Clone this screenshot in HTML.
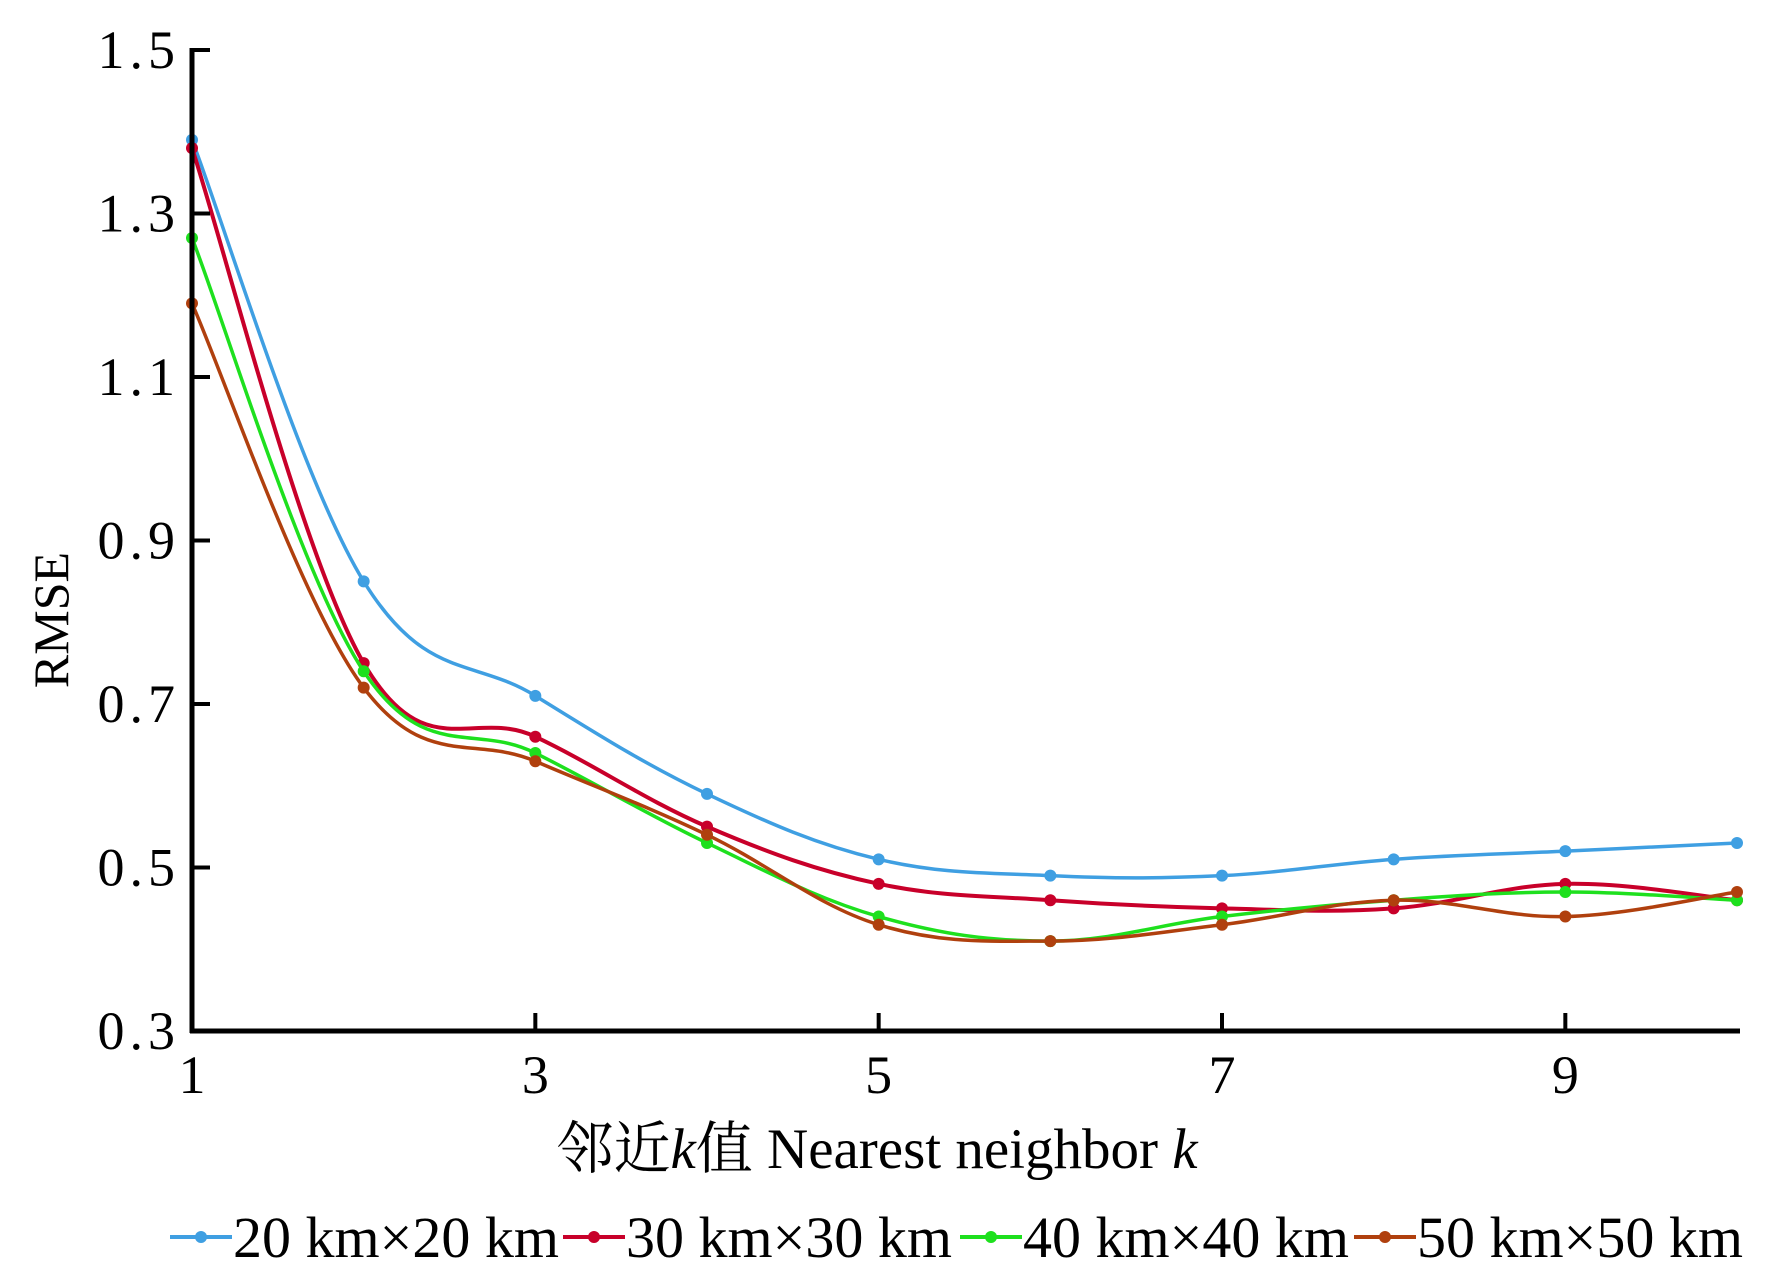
<!DOCTYPE html>
<html><head><meta charset="utf-8"><style>
html,body{margin:0;padding:0;background:#fff;}
svg{display:block;}
text{font-family:"Liberation Serif","Noto Serif CJK SC",serif;fill:#000;}
</style></head><body>
<svg id="chart" width="1772" height="1276" viewBox="0 0 1772 1276" xmlns="http://www.w3.org/2000/svg">
<g id="grid"></g>
<g id="series"></g>
<g id="axes"></g>
<text transform="translate(68,620) rotate(-90)" text-anchor="middle" font-size="50">RMSE</text>
<text x="877" y="1168" text-anchor="middle" font-size="57">邻近<tspan font-style="italic">k</tspan>值 Nearest neighbor <tspan font-style="italic">k</tspan></text>
<g id="legend"></g>
</svg>
<script>
const categories=[1,2,3,4,5,6,7,8,9,10];
const s20=[1.39,0.85,0.71,0.59,0.51,0.49,0.49,0.51,0.52,0.53];
const s30=[1.38,0.75,0.66,0.55,0.48,0.46,0.45,0.45,0.48,0.46];
const s40=[1.27,0.74,0.64,0.53,0.44,0.41,0.44,0.46,0.47,0.46];
const s50=[1.19,0.72,0.63,0.54,0.43,0.41,0.43,0.46,0.44,0.47];
const seriesNames=["20 km×20 km","30 km×30 km","40 km×40 km","50 km×50 km"];
const yTicks=["0.3","0.5","0.7","0.9","1.1","1.3","1.5"];
const xTicks=["1","3","5","7","9"];
const colors=["#3f9fe2","#c8002a","#1ee01e","#b0400e"];
const NS="http://www.w3.org/2000/svg";
function X(k){return 192+(k-1)*(1737-192)/9;}
function Y(v){return 1031-(v-0.3)*(1031-50)/1.2;}
function mk(tag,attrs,parent){const e=document.createElementNS(NS,tag);for(const k in attrs)e.setAttribute(k,attrs[k]);parent.appendChild(e);return e;}
const axes=document.getElementById('axes');
let l=mk('line',{x1:192,y1:48,x2:192,y2:1033,stroke:'#000','stroke-width':5},axes);


l=mk('line',{x1:190,y1:1031,x2:1740,y2:1031,stroke:'#000','stroke-width':5},axes);


yTicks.forEach(t=>{const v=parseFloat(t);const y=Y(v);
 const tk=mk('line',{x1:192,y1:y,x2:210,y2:y,stroke:'#000','stroke-width':4},axes);
 
 
 const tx=mk('text',{x:180,y:y+18,'text-anchor':'end','font-size':54,'letter-spacing':'5'},axes);
 tx.textContent=t;
 
 
});
xTicks.forEach(t=>{const k=parseFloat(t);const x=X(k);
 if(k>1){const tk=mk('line',{x1:x,y1:1031,x2:x,y2:1013,stroke:'#000','stroke-width':4},axes);
 
 }
 const tx=mk('text',{x:x,y:1093,'text-anchor':'middle','font-size':54},axes);
 tx.textContent=t;
 
 
});
function smooth(pts){let d=`M${pts[0][0]},${pts[0][1]}`;
 for(let i=0;i<pts.length-1;i++){const p0=pts[Math.max(0,i-1)],p1=pts[i],p2=pts[i+1],p3=pts[Math.min(pts.length-1,i+2)];
 const t=0.18;const c1=[p1[0]+(p2[0]-p0[0])*t,p1[1]+(p2[1]-p0[1])*t];const c2=[p2[0]-(p3[0]-p1[0])*t,p2[1]-(p3[1]-p1[1])*t];
 d+=` C${c1[0]},${c1[1]} ${c2[0]},${c2[1]} ${p2[0]},${p2[1]}`;}
 return d;}
const sg=document.getElementById('series');
[s20,s30,s40,s50].forEach((s,i)=>{
 const pts=categories.map((k,j)=>[X(k),Y(s[j])]);
 const p=mk('path',{d:smooth(pts),fill:'none',stroke:colors[i],'stroke-width':i==1?4:3.5},sg);
 
 
 pts.forEach(pt=>{const c=mk('circle',{cx:pt[0],cy:pt[1],r:6,fill:colors[i]},sg);
 
 });
});
const lg=document.getElementById('legend');
const lx=[170,563,960,1354];
seriesNames.forEach((n,i)=>{
 const g=mk('g',{},lg);
 
 
 mk('line',{x1:lx[i],y1:1237,x2:lx[i]+62,y2:1237,stroke:colors[i],'stroke-width':4},g);
 mk('circle',{cx:lx[i]+31,cy:1237,r:6,fill:colors[i]},g);
 const t=mk('text',{x:lx[i]+63,y:1257,'font-size':58,textLength:326,lengthAdjust:'spacingAndGlyphs'},g);
 t.textContent=n;
});
</script>
</body></html>
